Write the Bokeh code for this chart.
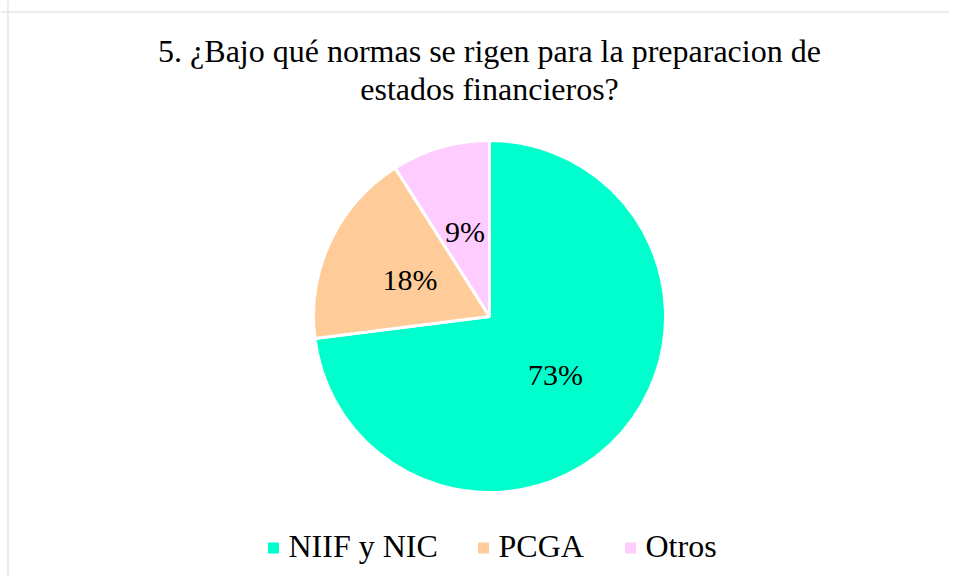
import numpy as np
from bokeh.plotting import figure
from bokeh.models import Range1d, Span
from bokeh.core.properties import value
from bokeh.embed import file_html
from bokeh.resources import INLINE

# ---- data ----
title_lines = ["5. ¿Bajo qué normas se rigen para la preparacion de", "estados financieros?"]
categories = ["NIIF y NIC", "PCGA", "Otros"]
percentages = [73, 18, 9]
colors = ["#00FFCC", "#FFCC99", "#FFCCFF"]

# ---- layout (page pixels) ----
W, H = 949, 576
OFF = 0
R_PX = 176
CX, CY = 489, 316
FONT = value("Liberation Serif")


def X(px):
    return (px - CX) / R_PX


def Y(py):
    return (CY - py) / R_PX


p = figure(width=W, height=H, output_backend="svg", toolbar_location=None,
           x_range=Range1d(X(OFF), X(OFF + W)), y_range=Range1d(Y(OFF + H), Y(OFF)),
           x_axis_location=None, y_axis_location=None, min_border=0)
p.grid.visible = False
p.outline_line_color = None
p.background_fill_color = "white"
p.border_fill_color = "white"

# chart border (only top/left visible in the reference)
p.add_layout(Span(location=Y(11.5), dimension="width", line_color="#d9d9d9", line_width=1))
p.add_layout(Span(location=X(7.5), dimension="height", line_color="#d9d9d9", line_width=1))

# pie
frac = np.array(percentages, dtype=float) / sum(percentages)
cum = np.cumsum(frac)
start = np.pi / 2 - 2 * np.pi * (cum - frac)
end = np.pi / 2 - 2 * np.pi * cum
p.wedge(x=0, y=0, radius=1, start_angle=list(start), end_angle=list(end),
        direction="clock", fill_color=colors, line_color="white", line_width=3)

# data labels
mid = (start + end) / 2
labels = [f"{v}%" for v in percentages]
p.text(x=list(0.5 * np.cos(mid)), y=list(0.5 * np.sin(mid)), text=labels,
       text_font=FONT, text_font_size="30px", text_align="center",
       text_baseline="middle", text_color="black")

# title
p.text(x=[X(489), X(489)], y=[Y(50), Y(88)], text=title_lines,
       text_font=FONT, text_font_size="32px", text_align="center",
       text_baseline="middle", text_color="black")

# legend
sq_x = [273, 483, 630]
tx_x = [288, 498, 645]
p.scatter(x=[X(v) for v in sq_x], y=[Y(547.5)] * 3, marker="square", size=11,
          fill_color=colors, line_color=None)
p.text(x=[X(v) for v in tx_x], y=[Y(545)] * 3, text=categories,
       text_font=FONT, text_font_size="32px", text_align="left",
       text_baseline="middle", text_color="black")

open("out.html", "w").write(file_html(p, INLINE))
